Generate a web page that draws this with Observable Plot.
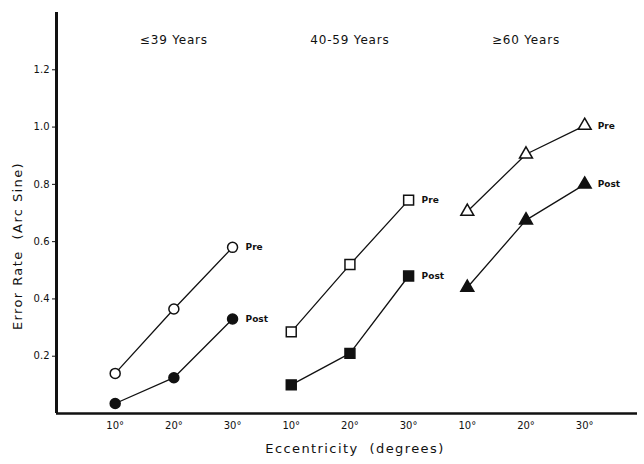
<!DOCTYPE html>
<html><head><meta charset="utf-8">
<script src="https://cdn.jsdelivr.net/npm/d3@7"></script>
<script src="https://cdn.jsdelivr.net/npm/@observablehq/plot@0.6"></script>
<style>body{margin:0;background:#fff}</style>
</head><body><div id="chart"></div>
<script>
const groups = ["≤39 Years", "40-59 Years", "≥60 Years"];
const eccentricities = ["10°", "20°", "30°"];
const conditions = ["Pre", "Post"];
const symbols = ["circle", "square", "triangle"];
const markerRadius = [5, 5.6, 4.8];
const preValues = [[0.14, 0.365, 0.58], [0.285, 0.52, 0.745], [0.705, 0.905, 1.005]];
const postValues = [[0.035, 0.125, 0.33], [0.10, 0.21, 0.48], [0.44, 0.675, 0.80]];
const yTicks = [0.2, 0.4, 0.6, 0.8, 1.0, 1.2];

const rows = [];
groups.forEach((g, gi) => {
  eccentricities.forEach((e, ei) => {
    rows.push({group: g, gi, ecc: e, pos: gi * 3 + ei + 1, cond: "Pre", value: preValues[gi][ei]});
    rows.push({group: g, gi, ecc: e, pos: gi * 3 + ei + 1, cond: "Post", value: postValues[gi][ei]});
  });
});
const xPositions = rows.filter(d => d.cond === "Pre").map(d => d.pos);

const chart = Plot.plot({
  width: 644,
  height: 464,
  marginLeft: 56,
  marginRight: 7,
  marginTop: 12,
  marginBottom: 51,
  style: {fontFamily: "DejaVu Sans", fontSize: "10px", background: "#fff", color: "#111"},
  x: {domain: [0, 9.9]},
  y: {domain: [0, 1.4]},
  marks: [
    Plot.axisY({ticks: yTicks, tickSize: 4, tickPadding: 3, tickFormat: d3.format(".1f"), label: null, fontSize: 10}),
    Plot.axisX({ticks: xPositions, tickSize: 0, tickPadding: 8, tickFormat: p => eccentricities[(p - 1) % 3], label: null, fontSize: 10}),
    Plot.line(rows, {x: "pos", y: "value", z: d => d.group + d.cond, stroke: "#111", strokeWidth: 1.3}),
    ...groups.map((g, gi) => Plot.dot(rows.filter(d => d.gi === gi), {
      x: "pos", y: "value", symbol: () => symbols[gi], r: markerRadius[gi],
      fill: d => d.cond === "Pre" ? "#fff" : "#111", stroke: "#111", strokeWidth: 1.5
    })),
    Plot.text(rows.filter(d => d.ecc === "30°"), {x: "pos", y: "value", text: "cond", dx: 13, textAnchor: "start", fontSize: 9, fontWeight: 600}),
    Plot.text(groups, {x: (d, i) => i * 3 + 2, frameAnchor: "top", dy: 23, text: d => d, fontSize: 12}),
    Plot.text(["Error Rate  (Arc Sine)"], {frameAnchor: "left", textAnchor: "middle", dx: -39, dy: 33, rotate: -90, text: d => d, fontSize: 13}),
    Plot.text(["Eccentricity  (degrees)"], {frameAnchor: "bottom", textAnchor: "middle", dx: 8, dy: 39, text: d => d, fontSize: 13}),
    Plot.ruleX([0], {strokeWidth: 3, stroke: "#111"}),
    Plot.ruleY([0], {strokeWidth: 2.5, stroke: "#111"})
  ]
});
document.getElementById("chart").appendChild(chart);
d3.select(chart).selectAll("text").filter(function() { return this.textContent.includes("Years"); }).attr("letter-spacing", "0.8");
d3.select(chart).selectAll("text").filter(function() { return /Error|Eccentricity/.test(this.textContent); }).attr("letter-spacing", "1.4");
</script></body></html>
